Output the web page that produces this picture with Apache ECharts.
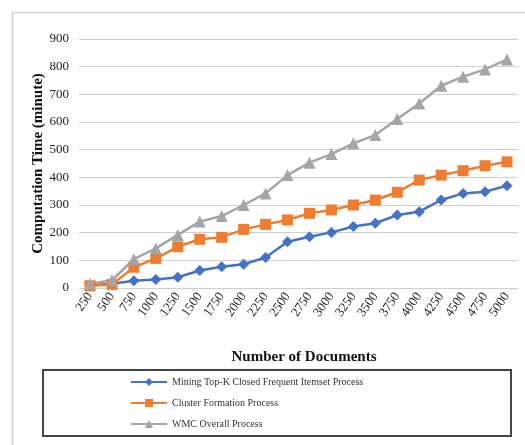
<!DOCTYPE html>
<html>
<head>
<meta charset="utf-8">
<script src="https://cdn.jsdelivr.net/npm/echarts@6/dist/echarts.min.js"></script>
<style>
  html, body { margin: 0; padding: 0; background: #fff; }
  #chart { width: 525px; height: 445px; }
</style>
</head>
<body>
<div id="chart"></div>
<script>
// Number of documents processed
const documents = ['250','500','750','1000','1250','1500','1750','2000','2250','2500',
                   '2750','3000','3250','3500','3750','4000','4250','4500','4750','5000'];

// Computation time in minutes for each stage
const miningTopK = [10, 15, 26, 31, 39, 63, 77, 86, 110, 167, 185, 201, 222, 234, 264, 276, 318, 342, 348, 370];
const clusterFormation = [8, 13, 75, 107, 149, 176, 183, 212, 230, 246, 270, 282, 300, 318, 346, 390, 408, 424, 442, 456];
const wmcOverall = [15, 28, 104, 143, 192, 240, 260, 300, 342, 408, 453, 484, 523, 553, 611, 667, 731, 764, 790, 826];

const seriesNames = [
  'Mining Top-K Closed Frequent Itemset Process',
  'Cluster Formation Process',
  'WMC Overall Process'
];

const serif = '"Liberation Serif", "Times New Roman", serif';

const chart = echarts.init(document.getElementById('chart'), null, { renderer: 'canvas' });

chart.setOption({
  backgroundColor: '#ffffff',
  animation: false,
  grid: { left: 79, right: 7, top: 39, bottom: 157 },
  graphic: [
    { type: 'rect', shape: { x: 12.5, y: 12.5, width: 530, height: 450 },
      style: { fill: 'none', stroke: '#cfcfcf', lineWidth: 1.5 }, z: 0 },
    { type: 'rect', shape: { x: 43, y: 370, width: 468, height: 66 },
      style: { fill: 'none', stroke: '#444444', lineWidth: 2 }, z: 0 },
    { type: 'text', x: 304, y: 357,
      style: { text: 'Number of Documents', fill: '#111', font: 'bold 15px ' + serif,
               textAlign: 'center', textVerticalAlign: 'middle' } }
  ],
  legend: {
    orient: 'vertical',
    left: 130,
    top: 377,
    padding: 0,
    itemWidth: 36,
    itemHeight: 10,
    itemGap: 11,
    data: seriesNames,
    textStyle: { fontFamily: serif, fontSize: 10, color: '#333' }
  },
  xAxis: {
    type: 'category',
    data: documents,
    boundaryGap: true,
    axisLine: { show: false },
    axisTick: { show: false },
    axisLabel: { interval: 0, rotate: 55, margin: 6, fontFamily: serif, fontSize: 13, color: '#222' }
  },
  yAxis: {
    type: 'value',
    min: 0, max: 900, interval: 100,
    name: 'Computation Time (minute)',
    nameLocation: 'middle',
    nameGap: 33,
    nameMoveOverlap: false,
    nameTextStyle: { fontFamily: serif, fontSize: 15, fontWeight: 'bold', color: '#111' },
    axisLine: { show: false },
    axisTick: { show: false },
    axisLabel: { margin: 10, fontFamily: serif, fontSize: 13, color: '#222' },
    splitLine: { lineStyle: { color: '#cfcfcf', width: 1 } }
  },
  series: [
    { name: seriesNames[0], type: 'line', data: miningTopK,
      symbol: 'diamond', symbolSize: 11,
      itemStyle: { color: '#4472C4' }, lineStyle: { color: '#4472C4', width: 2.5 } },
    { name: seriesNames[1], type: 'line', data: clusterFormation,
      symbol: 'rect', symbolSize: 11,
      itemStyle: { color: '#ED7D31' }, lineStyle: { color: '#ED7D31', width: 2.5 } },
    { name: seriesNames[2], type: 'line', data: wmcOverall,
      symbol: 'triangle', symbolSize: 12,
      itemStyle: { color: '#A5A5A5' }, lineStyle: { color: '#A5A5A5', width: 2.5 } }
  ]
});
</script>
</body>
</html>
